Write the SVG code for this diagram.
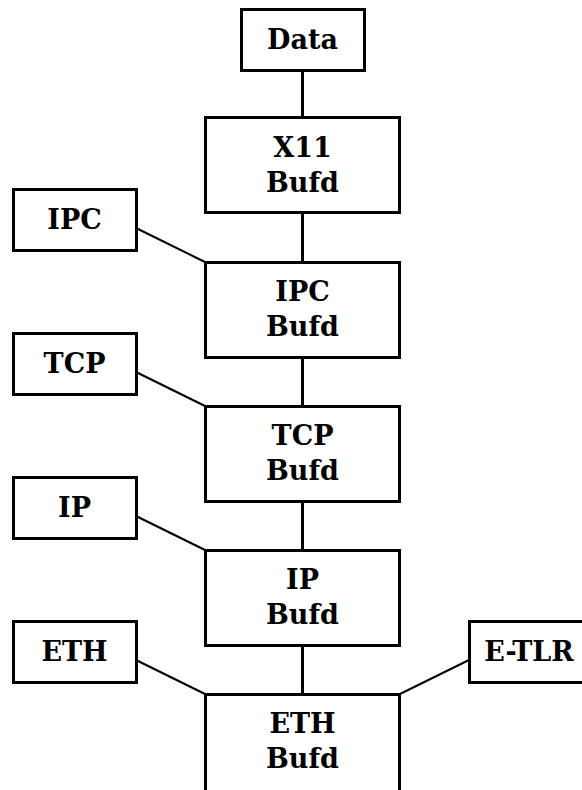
<svg xmlns="http://www.w3.org/2000/svg" width="582" height="790" viewBox="0 0 582 790">
<style>
.box{fill:#fff;stroke:#000;stroke-width:3}
.t{font-family:"DejaVu Serif","Liberation Serif",serif;font-weight:bold;font-size:27px;text-anchor:middle;fill:#000}
.v{stroke:#000;stroke-width:3;fill:none}
.d{stroke:#000;stroke-width:2;fill:none}
</style>
<rect width="582" height="790" fill="#fff"/>
<g id="connectors">
<line class="v" x1="302.5" y1="71" x2="302.5" y2="117"/>
<line class="v" x1="302.5" y1="213" x2="302.5" y2="262"/>
<line class="v" x1="302.5" y1="358" x2="302.5" y2="406"/>
<line class="v" x1="302.5" y1="502" x2="302.5" y2="550"/>
<line class="v" x1="302.5" y1="646" x2="302.5" y2="694"/>
<line class="d" x1="136" y1="228" x2="205" y2="262"/>
<line class="d" x1="136" y1="372" x2="205" y2="406"/>
<line class="d" x1="136" y1="516" x2="205" y2="550"/>
<line class="d" x1="136" y1="660" x2="205" y2="694"/>
<line class="d" x1="469" y1="660" x2="400" y2="694"/>
</g>
<g id="data"><rect class="box" x="241.5" y="9.5" width="123" height="61"/><text class="t" x="302.5" y="49">Data</text></g>
<g id="x11"><rect class="box" x="205.5" y="117.5" width="194" height="95"/><text class="t" x="302.5" y="157">X11</text><text class="t" x="302.5" y="192">Bufd</text></g>
<g id="ipc-small"><rect class="box" x="13.5" y="189.5" width="123" height="61"/><text class="t" x="74.5" y="229">IPC</text></g>
<g id="ipc"><rect class="box" x="205.5" y="262.5" width="194" height="95"/><text class="t" x="302.5" y="301">IPC</text><text class="t" x="302.5" y="336">Bufd</text></g>
<g id="tcp-small"><rect class="box" x="13.5" y="333.5" width="123" height="61"/><text class="t" x="74.5" y="373">TCP</text></g>
<g id="tcp"><rect class="box" x="205.5" y="406.5" width="194" height="95"/><text class="t" x="302.5" y="445">TCP</text><text class="t" x="302.5" y="480">Bufd</text></g>
<g id="ip-small"><rect class="box" x="13.5" y="477.5" width="123" height="61"/><text class="t" x="74.5" y="517">IP</text></g>
<g id="ip"><rect class="box" x="205.5" y="550.5" width="194" height="95"/><text class="t" x="302.5" y="589">IP</text><text class="t" x="302.5" y="624">Bufd</text></g>
<g id="eth-small"><rect class="box" x="13.5" y="621.5" width="123" height="61"/><text class="t" x="74.5" y="661">ETH</text></g>
<g id="etlr"><rect class="box" x="469.5" y="621.5" width="123" height="61"/><text class="t" x="529" y="661">E-TLR</text></g>
<g id="eth"><path class="v" d="M205.5 792 V694.5 H399.5 V792"/><text class="t" x="302.5" y="733">ETH</text><text class="t" x="302.5" y="768">Bufd</text></g>
</svg>
